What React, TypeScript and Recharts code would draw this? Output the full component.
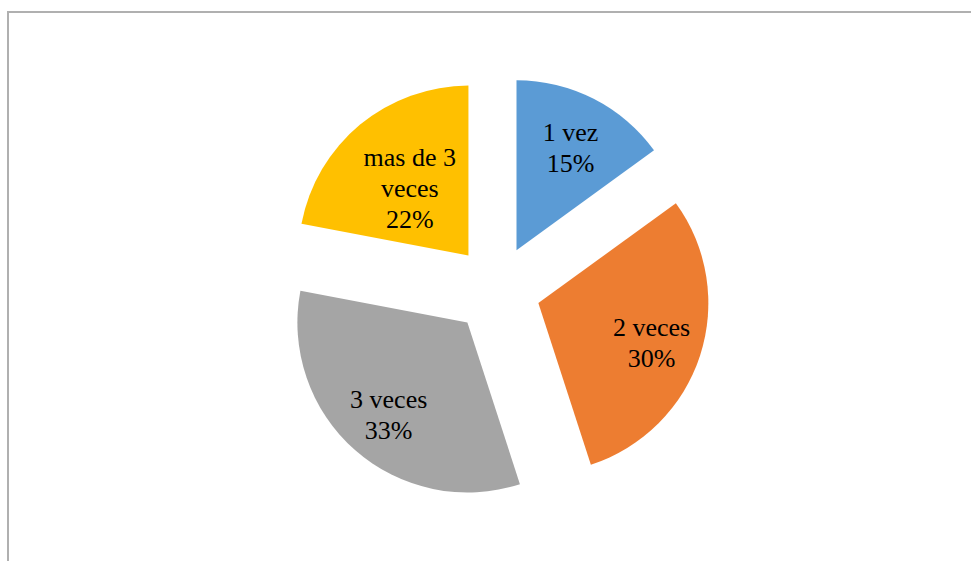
import React from "react";
import { Cell, Pie, PieChart, Sector } from "recharts";

const categories = ["1 vez", "2 veces", "3 veces", "mas de 3 veces"];
const values = [15, 30, 33, 22];
const colors = ["#5B9BD5", "#ED7D31", "#A5A5A5", "#FFC000"];

const RAD = Math.PI / 180;
const EXPLODE = 44;
const LINE = 31;
const SERIF = "'Liberation Serif', 'Times New Roman', 'DejaVu Serif', serif";

const data = categories.map((name, i) => ({ name, value: values[i] }));

// excel-style word wrap for the data labels
function wrap(text: string, max = 8) {
  const lines: string[] = [];
  let cur = "";
  for (const w of text.split(" ")) {
    const next = cur ? cur + " " + w : w;
    if (next.length > max && cur) {
      lines.push(cur);
      cur = w;
    } else {
      cur = next;
    }
  }
  if (cur) lines.push(cur);
  return lines;
}

function offset(midAngle: number, d: number) {
  return [d * Math.cos(-midAngle * RAD), d * Math.sin(-midAngle * RAD)];
}

function ExplodedSector(props: any) {
  const [dx, dy] = offset(props.midAngle, EXPLODE);
  return <Sector {...props} cx={props.cx + dx} cy={props.cy + dy} stroke="none" />;
}

function renderLabel(props: any) {
  const { cx, cy, midAngle, outerRadius, percent, name } = props;
  const lines = [...wrap(name), `${Math.round(percent * 100)}%`];
  const r = outerRadius * 0.7 - (lines.length - 2) * 27;
  const [ex, ey] = offset(midAngle, EXPLODE);
  const [lx, ly] = offset(midAngle, r);
  const x = cx + ex + lx;
  const y = cy + ey + ly - ((lines.length - 1) / 2) * LINE + 12;
  return (
    <text
      x={x}
      y={y}
      textAnchor="middle"
      fill="#000"
      fontSize={26}
      fontFamily={SERIF}
      style={{ fontFamily: SERIF, fontSize: 26 }}
    >
      {lines.map((l, i) => (
        <tspan key={i} x={x} dy={i === 0 ? 0 : LINE}>
          {l}
        </tspan>
      ))}
    </text>
  );
}

export default function App() {
  return (
    <div
      style={{
        position: "absolute",
        left: 0,
        top: 0,
        width: 971,
        height: 561,
        overflow: "hidden",
        background: "#fff",
      }}
    >
      <div
        style={{
          position: "absolute",
          left: 7,
          top: 11,
          width: 990,
          height: 600,
          border: "2px solid #b0b0b0",
        }}
      />
      <div style={{ position: "absolute", left: 0, top: 0 }}>
        <PieChart width={971} height={561} margin={{ top: 0, right: 0, bottom: 0, left: 0 }}>
          <Pie
            data={data}
            dataKey="value"
            nameKey="name"
            cx={496.5}
            cy={289.5}
            outerRadius={170}
            startAngle={90}
            endAngle={-270}
            stroke="none"
            shape={ExplodedSector}
            label={renderLabel}
            labelLine={false}
            isAnimationActive={false}
          >
            {data.map((d, i) => (
              <Cell key={d.name} fill={colors[i]} />
            ))}
          </Pie>
        </PieChart>
      </div>
    </div>
  );
}
